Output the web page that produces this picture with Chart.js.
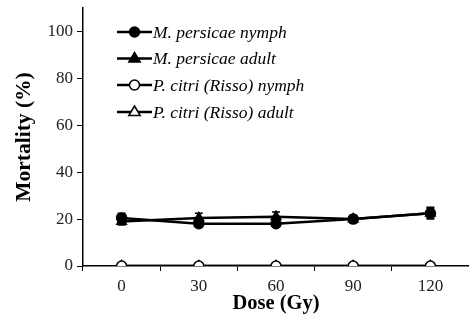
<!DOCTYPE html>
<html><head><meta charset="utf-8">
<script src="https://cdn.jsdelivr.net/npm/chart.js@4.4.0/dist/chart.umd.min.js"></script>
<style>html,body{margin:0;padding:0;background:#fff}#wrap{width:469px;height:329px}</style>
</head><body><div id="wrap"><canvas id="c" width="469" height="329"></canvas></div>
<script>
const doses = ['0', '30', '60', '90', '120'];
const mpNymph = [20.5, 18, 18, 20, 22.5];
const mpNymphErr = [2, 1.5, 1.5, 1.5, 2];
const mpAdult = [19, 20.5, 21, 20, 22.5];
const mpAdultErr = [1.5, 2, 2, 1.5, 2.5];
const pcNymph = [0, 0, 0, 0, 0];
const pcNymphErr = [0, 0, 0, 0, 0];
const pcAdult = [0, 0, 0, 0, 0];
const pcAdultErr = [0, 0, 0, 0, 0];
const seriesNames = ['M. persicae nymph', 'M. persicae adult', 'P. citri (Risso) nymph', 'P. citri (Risso) adult'];
const yTicks = [0, 20, 40, 60, 80, 100];

const serif = "'Liberation Serif','DejaVu Serif',serif";

function ds(label, data, err, style, fill) {
  return {
    label, data, err,
    borderColor: '#000', borderWidth: 2.5,
    pointStyle: style, pointRadius: style === 'triangle' ? 5.5 : 5,
    pointBackgroundColor: fill, pointBorderColor: '#000', pointBorderWidth: 1.5,
    tension: 0, fill: false
  };
}

const errorBars = {
  id: 'errorBars',
  afterDatasetsDraw(chart) {
    const ctx = chart.ctx, y = chart.scales.y;
    ctx.save();
    ctx.strokeStyle = '#000'; ctx.lineWidth = 1.5;
    chart.data.datasets.forEach((d, i) => {
      const meta = chart.getDatasetMeta(i);
      meta.data.forEach((pt, j) => {
        const e = d.err[j]; if (!e) return;
        const top = y.getPixelForValue(d.data[j] + e);
        const bot = y.getPixelForValue(d.data[j] - e);
        ctx.beginPath();
        ctx.moveTo(pt.x, top); ctx.lineTo(pt.x, bot);
        ctx.moveTo(pt.x - 4, top); ctx.lineTo(pt.x + 4, top);
        ctx.moveTo(pt.x - 4, bot); ctx.lineTo(pt.x + 4, bot);
        ctx.stroke();
      });
    });
    ctx.restore();
  }
};

const customLegend = {
  id: 'customLegend',
  afterDraw(chart) {
    const ctx = chart.ctx;
    ctx.save();
    const x0 = 117, x1 = 152, rows = [32, 58.5, 85, 112];
    chart.data.datasets.forEach((d, i) => {
      const yy = rows[i];
      ctx.strokeStyle = '#000'; ctx.lineWidth = 2.5;
      ctx.beginPath(); ctx.moveTo(x0, yy); ctx.lineTo(x1, yy); ctx.stroke();
      const cx = (x0 + x1) / 2;
      ctx.lineWidth = 1.5; ctx.fillStyle = d.pointBackgroundColor;
      ctx.beginPath();
      if (d.pointStyle === 'circle') {
        ctx.arc(cx, yy, 5, 0, Math.PI * 2);
      } else {
        const r = 6;
        ctx.moveTo(cx, yy - r); ctx.lineTo(cx + r * 0.95, yy + r * 0.6); ctx.lineTo(cx - r * 0.95, yy + r * 0.6); ctx.closePath();
      }
      ctx.fill(); ctx.stroke();
      ctx.fillStyle = '#000';
      ctx.font = 'italic 17.5px ' + serif;
      ctx.textBaseline = 'middle'; ctx.textAlign = 'left';
      ctx.fillText(d.label, x1 + 1, yy + 1);
    });
    ctx.restore();
  }
};

new Chart(document.getElementById('c'), {
  type: 'line',
  data: {
    labels: doses,
    datasets: [
      ds(seriesNames[0], mpNymph, mpNymphErr, 'circle', '#000'),
      ds(seriesNames[1], mpAdult, mpAdultErr, 'triangle', '#000'),
      ds(seriesNames[2], pcNymph, pcNymphErr, 'circle', '#fff'),
      ds(seriesNames[3], pcAdult, pcAdultErr, 'triangle', '#fff')
    ]
  },
  options: {
    responsive: false, animation: false,
    layout: { autoPadding: false, padding: { top: 8, right: 0, left: 0, bottom: 0 } },
    plugins: { legend: { display: false }, tooltip: { enabled: false } },
    scales: {
      x: {
        offset: true,
        grid: { display: true, drawOnChartArea: false, offset: true, drawTicks: true, tickLength: 5, color: '#000', tickColor: '#000' },
        border: { color: '#000', width: 1.5 },
        ticks: { color: '#222', font: { family: serif, size: 17 }, padding: 5 },
        title: { display: true, text: 'Dose (Gy)', color: '#000', font: { family: serif, size: 20.5, weight: 'bold' }, padding: { top: 0, bottom: 13 } },
        afterFit(s) { s.height = 63; s.paddingLeft = 0; s.paddingRight = 0; }
      },
      y: {
        min: 0, max: 110,
        afterBuildTicks(s) { s.ticks = yTicks.map(v => ({ value: v })); },
        grid: { display: true, drawOnChartArea: false, tickLength: 6, tickColor: '#000' },
        border: { color: '#000', width: 1.5 },
        ticks: { color: '#222', font: { family: serif, size: 17 }, padding: 4 },
        title: { display: true, text: 'Mortality (%)', color: '#000', font: { family: serif, size: 21.5, weight: 'bold' }, padding: { top: 12, bottom: 0 } },
        afterFit(s) { s.width = 83; s.paddingTop = 0; s.paddingBottom = 0; }
      }
    }
  },
  plugins: [errorBars, customLegend]
});
</script></body></html>
